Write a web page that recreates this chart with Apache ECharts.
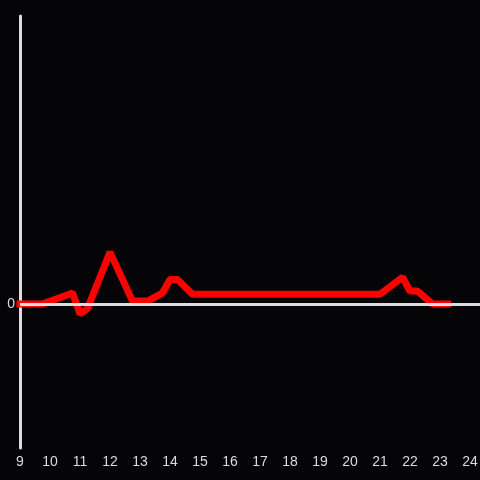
<!DOCTYPE html>
<html>
<head>
<meta charset="utf-8">
<script src="https://cdn.jsdelivr.net/npm/echarts@6/dist/echarts.min.js"></script>
<style>
  html, body { margin: 0; padding: 0; background: #050407; }
  #chart { width: 480px; height: 480px; }
</style>
</head>
<body>
<div id="chart"></div>
<script>
// hours of day (x) and values (y)
const hours = [9, 9.75, 10.75, 11, 11.25, 12, 12.75, 13.25, 13.75, 14, 14.25, 14.75, 21, 21.75, 22, 22.25, 22.75, 23.25]
const values = [0, 0, 3.8, -3.4, -1.6, 18, 1, 1, 3.8, 8.5, 8.5, 3.4, 3.4, 9.3, 4.5, 4.5, 0, 0]
const yTickLabels = ['0']

const axisColor = '#dcdcdc'
const lineColor = '#ff0000'

const chartInstance = echarts.init(document.getElementById('chart'))

const option = {
  backgroundColor: '#050407',
  animation: false,
  grid: {
    top: 16,
    left: 20,
    right: 0,
    bottom: 32,
    outerBoundsMode: 'none'
  },
  xAxis: {
    type: 'value',
    min: 9,
    max: 24 + 1 / 3,
    interval: 1,
    axisLine: { show: false },
    axisTick: { show: false },
    splitLine: { show: false },
    axisLabel: {
      color: axisColor,
      fontSize: 14,
      margin: 7,
      formatter: (v) => (Number.isInteger(v) ? String(v) : '')
    }
  },
  yAxis: {
    type: 'value',
    min: -50,
    max: 100,
    interval: 50,
    axisLine: {
      show: true,
      onZero: false,
      lineStyle: { color: axisColor, width: 3 }
    },
    axisTick: { show: false },
    splitLine: { show: false },
    axisLabel: {
      color: axisColor,
      fontSize: 14,
      margin: 5,
      formatter: (v) => (yTickLabels.includes(String(v)) ? String(v) : '')
    }
  },
  series: [
    {
      // zero line
      type: 'line',
      data: [],
      z: 1,
      markLine: {
        silent: true,
        symbol: 'none',
        label: { show: false },
        lineStyle: { color: axisColor, width: 3, type: 'solid' },
        data: [{ yAxis: 0 }]
      }
    },
    {
      type: 'line',
      z: 2,
      showSymbol: false,
      data: hours.map((h, i) => [h, values[i]]),
      lineStyle: {
        color: lineColor,
        width: 7,
        cap: 'square',
        join: 'bevel'
      }
    }
  ]
}

chartInstance.setOption(option)
</script>
</body>
</html>
